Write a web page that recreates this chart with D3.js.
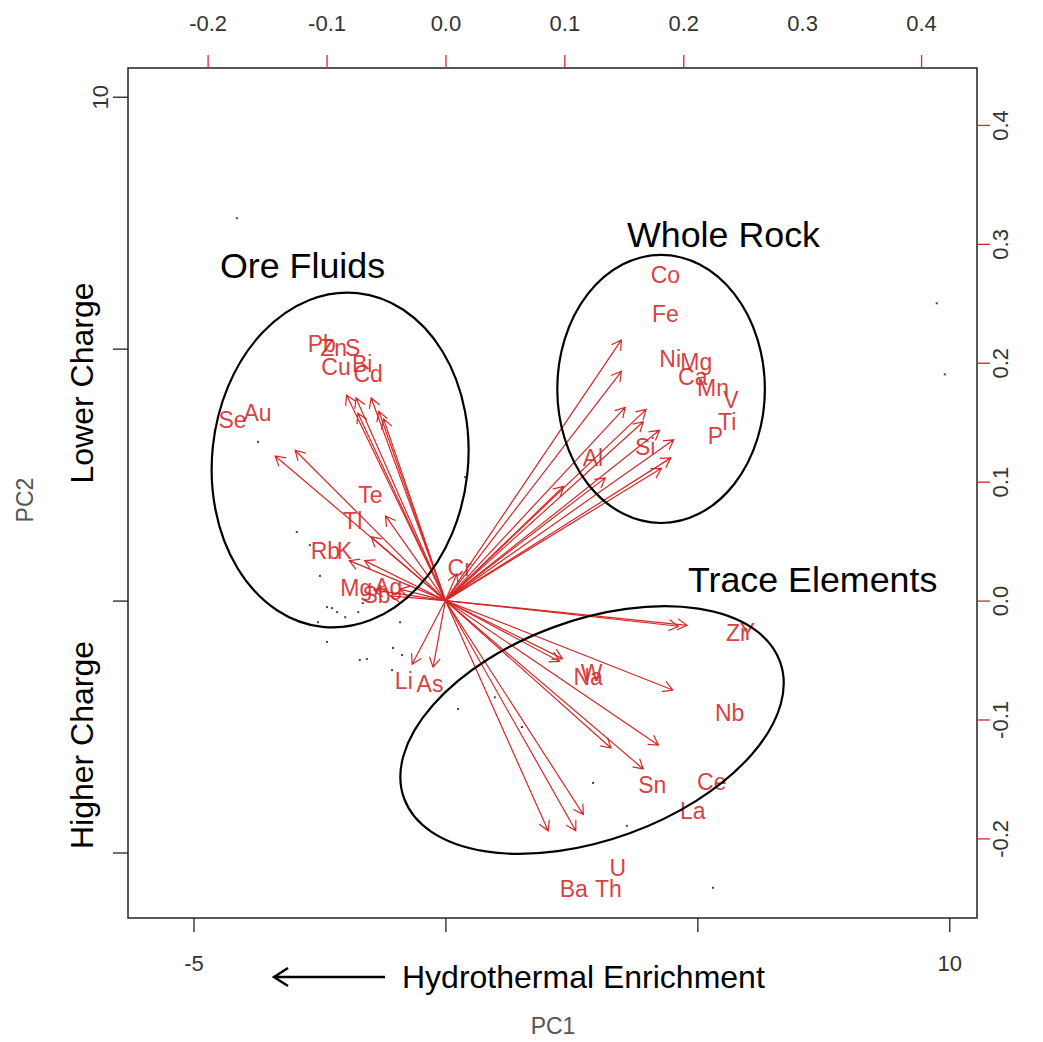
<!DOCTYPE html>
<html lang="en">
<head>
<meta charset="UTF-8">
<title>PCA biplot</title>
<style>
  body { margin: 0; background: #fff; }
  text { font-family: "Liberation Sans", Arial, sans-serif; }
</style>
</head>
<body>
<script src="https://cdn.jsdelivr.net/npm/d3@7"></script>
<script>
// element loadings (label positions; arrows run to 0.8 of them, like R biplot)
var vars   = ['Pb','Zn','S','Cu','Bi','Cd','Se','Au','Te','Tl','Rb','K','Mg','Ag','Sb','Cr','Li','As',
              'Co','Fe','Ni','Mg','Ca','Mn','V','Ti','P','Si','Al',
              'Zr','Y','Na','W','Nb','Sn','Ce','La','U','Ba','Th']
var pc1Load = [-0.104,-0.094,-0.078,-0.092,-0.070,-0.065,-0.179,-0.158,-0.063,-0.078,-0.101,-0.085,-0.075,-0.048,-0.058,0.012,-0.035,-0.013,
               0.185,0.185,0.189,0.211,0.208,0.225,0.240,0.237,0.227,0.168,0.124,
               0.245,0.254,0.120,0.123,0.239,0.174,0.224,0.208,0.145,0.108,0.137]
var pc2Load = [0.216,0.213,0.213,0.197,0.199,0.191,0.152,0.158,0.089,0.067,0.042,0.042,0.011,0.012,0.005,0.028,-0.067,-0.070,
               0.274,0.241,0.203,0.201,0.188,0.179,0.169,0.150,0.139,0.129,0.120,
               -0.027,-0.026,-0.064,-0.061,-0.094,-0.155,-0.152,-0.177,-0.225,-0.242,-0.242]

// sample scores
var scoreX = [-4.14,9.75,9.91,-3.72,0.39,-2.95,-2.69,-2.49,-2.35,-2.25,-2.15,-1.99,-1.73,-1.64,-2.53,-2.35,-0.90,-1.04,-0.86,-1.70,-1.56,-1.06,0.25,0.98,1.52,2.93,3.60,5.31]
var scoreY = [7.59,5.90,4.49,3.15,2.45,1.36,1.10,0.49,-0.13,-0.15,-0.23,-0.33,-0.23,-0.05,-0.43,-0.82,-0.43,-0.94,-1.08,-1.18,-1.16,-1.38,-2.15,-1.92,-2.51,-3.62,-4.47,-5.70]

// axis ticks
var scoreTicks = [-5, 0, 5, 10]
var bottomLabels = [-5, 10]
var leftLabels = [10]
var loadTicks = [-0.2, -0.1, 0.0, 0.1, 0.2, 0.3, 0.4]

// groups drawn as ellipses (centre, radii in score units, rotation)
var groupNames = ['Ore Fluids', 'Whole Rock', 'Trace Elements']
var groupCx = [-2.09, 4.28, 2.91]
var groupCy = [2.79, 4.20, -2.57]
var groupRx = [2.54, 2.06, 3.97]
var groupRy = [3.33, 2.66, 2.18]
var groupRot = [6, 0, -20]

var width = 1043, height = 1042
var box = {left: 128, right: 977, top: 68, bottom: 918}
var ratio = 23.6
var red = '#d42828'

var svg = d3.select('body').append('svg').attr('width', width).attr('height', height)

var xlim = [-6.3, 10.55], ylim = [-6.3, 10.57]
var x = d3.scaleLinear().domain(xlim).range([box.left, box.right])
var y = d3.scaleLinear().domain(ylim).range([box.bottom, box.top])
var xl = d3.scaleLinear().domain([xlim[0]/ratio, xlim[1]/ratio]).range([box.left, box.right])
var yl = d3.scaleLinear().domain([ylim[0]/ratio, ylim[1]/ratio]).range([box.bottom, box.top])

var fmt = d => d3.format('.1f')(d).replace('\u2212', '-')

// points
svg.append('g').selectAll('rect').data(scoreX).enter().append('rect')
    .attr('x', (d, i) => x(d) - 1).attr('y', (d, i) => y(scoreY[i]) - 1)
    .attr('width', 2).attr('height', 2).attr('fill', '#444')

// arrows
var ox = xl(0), oy = yl(0)
var ar = svg.append('g').attr('fill', 'none').attr('stroke', red).attr('stroke-width', 1.2)
vars.forEach(function(v, i){
    var tx = xl(0.8*pc1Load[i]), ty = yl(0.8*pc2Load[i])
    var a = Math.atan2(ty - oy, tx - ox), L = 11, s = Math.PI/6
    var p = 'M' + ox + ',' + oy + 'L' + tx + ',' + ty +
        'M' + (tx - L*Math.cos(a - s)) + ',' + (ty - L*Math.sin(a - s)) + 'L' + tx + ',' + ty +
        'L' + (tx - L*Math.cos(a + s)) + ',' + (ty - L*Math.sin(a + s))
    ar.append('path').attr('d', p)
})

svg.append('g').selectAll('text').data(vars).enter().append('text')
    .attr('x', (d, i) => xl(pc1Load[i])).attr('y', (d, i) => yl(pc2Load[i]))
    .attr('dy', '0.36em').attr('text-anchor', 'middle')
    .attr('font-size', 23).attr('fill', red).attr('fill-opacity', 0.9)
    .text(d => d)

// ellipses
svg.append('g').selectAll('ellipse').data(groupNames).enter().append('ellipse')
    .attr('transform', (d, i) => 'translate(' + x(groupCx[i]) + ',' + y(groupCy[i]) + ') rotate(' + groupRot[i] + ')')
    .attr('rx', (d, i) => x(groupRx[i]) - x(0)).attr('ry', (d, i) => y(0) - y(groupRy[i]))
    .attr('fill', 'none').attr('stroke', '#000').attr('stroke-width', 2.2)

var titlePos = [[220, 278], [627, 247], [688, 592]]
svg.append('g').selectAll('text').data(groupNames).enter().append('text')
    .attr('x', (d, i) => titlePos[i][0]).attr('y', (d, i) => titlePos[i][1])
    .attr('font-size', 35.8).attr('fill', '#000').text(d => d)

// frame
svg.append('rect').attr('x', box.left).attr('y', box.top)
    .attr('width', box.right - box.left).attr('height', box.bottom - box.top)
    .attr('fill', 'none').attr('stroke', '#222').attr('stroke-width', 1.5)

// axes
function styleAxis(g, col){
    g.select('.domain').remove()
    g.selectAll('line').attr('stroke', col).attr('stroke-width', 1.3)
    g.selectAll('text').attr('font-size', 22).attr('fill', '#333')
        .attr('font-family', '"Liberation Sans", Arial, sans-serif')
}

var gb = svg.append('g').attr('transform', 'translate(0,' + box.bottom + ')')
    .call(d3.axisBottom(x).tickValues(scoreTicks).tickSize(14).tickPadding(23)
        .tickFormat(d => bottomLabels.indexOf(d) >= 0 ? String(d) : ''))
styleAxis(gb, '#222')

var gl = svg.append('g').attr('transform', 'translate(' + box.left + ',0)')
    .call(d3.axisLeft(y).tickValues(scoreTicks).tickSize(15)
        .tickFormat(d => leftLabels.indexOf(d) >= 0 ? String(d) : ''))
styleAxis(gl, '#222')
gl.selectAll('text').attr('x', null).attr('dy', null).attr('text-anchor', 'middle')
    .attr('transform', 'translate(-20,0) rotate(-90)')

var gt = svg.append('g').attr('transform', 'translate(0,' + box.top + ')')
    .call(d3.axisTop(xl).tickValues(loadTicks).tickSize(13).tickPadding(24).tickFormat(fmt))
styleAxis(gt, red)
gt.selectAll('.tick').filter(d => Math.abs(d - 0.3) < 1e-9).select('line').remove()

var gr = svg.append('g').attr('transform', 'translate(' + box.right + ',0)')
    .call(d3.axisRight(yl).tickValues(loadTicks).tickSize(13).tickFormat(fmt))
styleAxis(gr, red)
gr.selectAll('text').attr('x', null).attr('dy', null).attr('text-anchor', 'middle')
    .attr('transform', 'translate(31,0) rotate(-90)')

// axis titles
svg.append('text').attr('x', 553).attr('y', 1034).attr('text-anchor', 'middle')
    .attr('font-size', 23).attr('fill', '#555').text('PC1')
svg.append('text').attr('transform', 'translate(33,500) rotate(-90)').attr('text-anchor', 'middle')
    .attr('font-size', 23).attr('fill', '#555').text('PC2')

// annotations
svg.append('text').attr('transform', 'translate(93,383) rotate(-90)').attr('text-anchor', 'middle')
    .attr('font-size', 32).attr('fill', '#000').text('Lower Charge')
svg.append('text').attr('transform', 'translate(93,745) rotate(-90)').attr('text-anchor', 'middle')
    .attr('font-size', 32).attr('fill', '#000').text('Higher Charge')
svg.append('text').attr('x', 402).attr('y', 988)
    .attr('font-size', 32).attr('fill', '#000').text('Hydrothermal Enrichment')
svg.append('path').attr('d', 'M385,977L274,977M288,968L274,977L288,986')
    .attr('fill', 'none').attr('stroke', '#000').attr('stroke-width', 2.5)
</script>
</body>
</html>
